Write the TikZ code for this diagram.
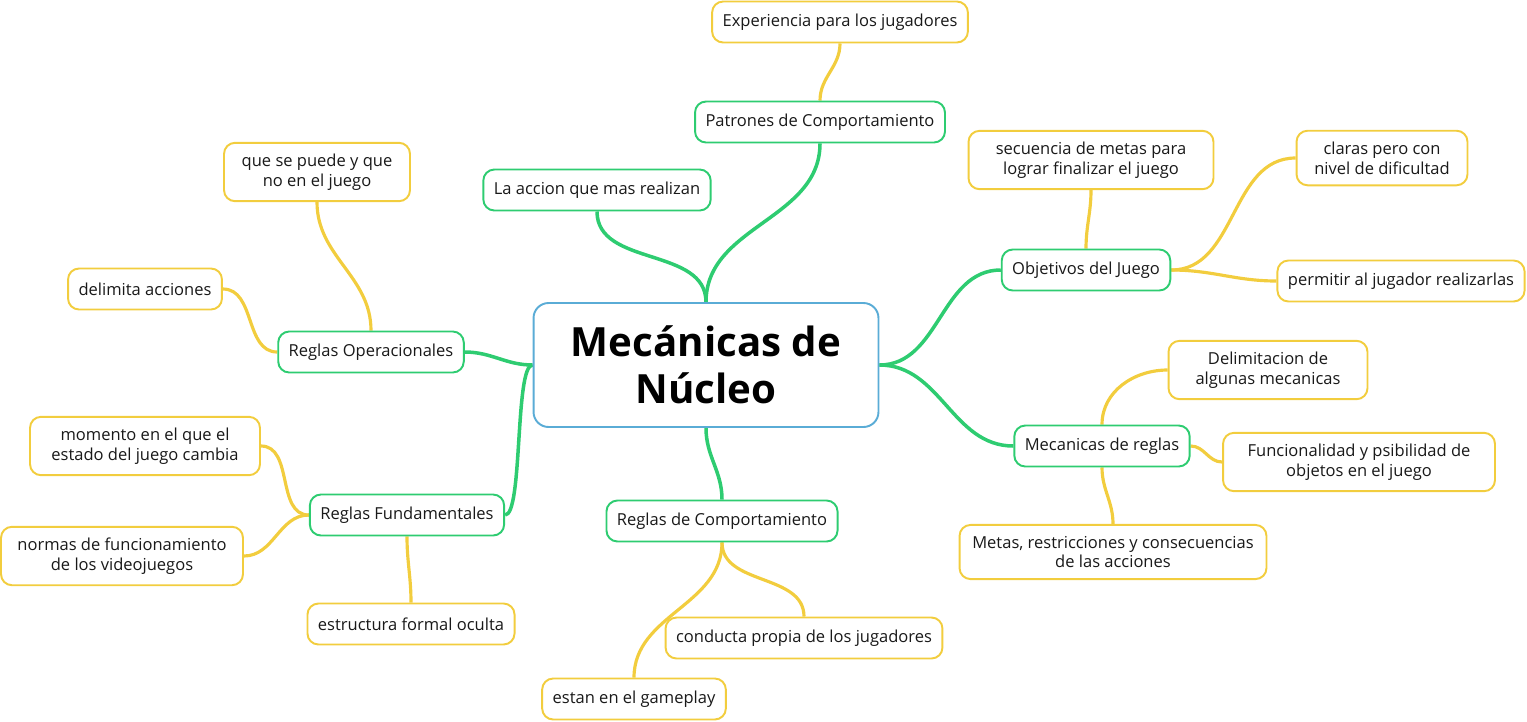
\documentclass[tikz,border=0pt]{standalone}
\usepackage{fontspec}
\setmainfont{Open Sans}
\usepackage{tikz}
\usetikzlibrary{positioning, backgrounds}
\definecolor{CoreBlue}{RGB}{90,172,214}
\definecolor{BranchGreen}{RGB}{46,204,113}
\definecolor{LeafYellow}{RGB}{242,205,62}

\begin{document}
\begin{tikzpicture}[
  x=0.02cm, y=0.02cm,
  every node/.style={font=\fontsize{9.4}{11.3}\selectfont, text=black!90},
  core/.style={draw=CoreBlue, line width=1.1pt, rounded corners=0.3cm, fill=white,
    minimum width=6.9cm, minimum height=2.48cm, align=center,
    font=\fontsize{22.9}{26.6}\selectfont\bfseries, text=black},
  topic/.style={draw=BranchGreen, line width=1.1pt, rounded corners=0.22cm, fill=white,
    minimum height=0.82cm, inner xsep=0.21cm, align=center},
  leaf/.style={draw=LeafYellow, line width=1.1pt, rounded corners=0.22cm, fill=white,
    minimum height=0.82cm, inner xsep=0.21cm, inner ysep=0.22cm, align=center},
  branch/.style={BranchGreen, line width=2pt},
  twig/.style={LeafYellow, line width=1.8pt},
]
\useasboundingbox (0,0) rectangle (1527,-721);

% Centre
\node[core] (core) at (706,-365) {Mecánicas de\\Núcleo};

% Topics
\node[topic] (patrones) at (820,-122) {Patrones de Comportamiento};
\node[topic] (accion) at (597,-190) {La accion que mas realizan};
\node[topic] (operac) at (371,-352) {Reglas Operacionales};
\node[topic] (fundam) at (407,-515) {Reglas Fundamentales};
\node[topic] (comport) at (722,-521) {Reglas de Comportamiento};
\node[topic] (objetivos) at (1086,-270) {Objetivos del Juego};
\node[topic] (mecanicas) at (1102,-446) {Mecanicas de reglas};

% Leaves
\node[leaf] (experiencia) at (840,-22) {Experiencia para los jugadores};
\node[leaf, minimum width=3.72cm] (puede) at (317,-172) {que se puede y que\\no en el juego};
\node[leaf] (delimita) at (145,-289) {delimita acciones};
\node[leaf, minimum width=4.6cm] (momento) at (145,-446) {momento en el que el\\estado del juego cambia};
\node[leaf, minimum width=4.84cm] (normas) at (122,-556) {normas de funcionamiento\\de los videojuegos};
\node[leaf] (estructura) at (411,-624) {estructura formal oculta};
\node[leaf] (conducta) at (804,-638) {conducta propia de los jugadores};
\node[leaf] (gameplay) at (634,-699) {estan en el gameplay};
\node[leaf, minimum width=4.9cm] (secuencia) at (1091,-160) {secuencia de metas para\\lograr finalizar el juego};
\node[leaf, minimum width=3.42cm] (claras) at (1382,-158) {claras pero con\\nivel de dificultad};
\node[leaf] (permitir) at (1401,-281) {permitir al jugador realizarlas};
\node[leaf, minimum width=3.98cm] (delimitacion) at (1268,-370) {Delimitacion de\\algunas mecanicas};
\node[leaf, minimum width=5.44cm] (funcionalidad) at (1359,-462) {Funcionalidad y psibilidad de\\objetos en el juego};
\node[leaf, minimum width=6.14cm] (metas) at (1113,-552) {Metas, restricciones y consecuencias\\de las acciones};

\begin{scope}[on background layer]
% Centre to topics
\draw[branch] (core.north) to[out=90,in=-90] (patrones.south);
\draw[branch] (core.north) to[out=90,in=-90] (accion.south);
\draw[branch] (core.west) to[out=180,in=0] (operac.east);
\draw[branch] (core.west) to[out=180,in=0,looseness=0.3] (fundam.east);
\draw[branch] (core.south) to[out=-90,in=90] (comport.north);
\draw[branch] (core.east) to[out=0,in=180] (objetivos.west);
\draw[branch] (core.east) to[out=0,in=180] (mecanicas.west);

% Topics to leaves
\draw[twig] (experiencia.south) to[out=-90,in=90] (patrones.north);
\draw[twig] (puede.south) to[out=-90,in=90] (operac.north);
\draw[twig] (delimita.east) to[out=0,in=180] (operac.west);
\draw[twig] (momento.east) to[out=0,in=180] (fundam.west);
\draw[twig] (normas.east) to[out=0,in=180] (fundam.west);
\draw[twig] (estructura.north) to[out=90,in=-90] (fundam.south);
\draw[twig] (comport.south) to[out=-90,in=90] (conducta.north);
\draw[twig] (comport.south) to[out=-90,in=90] (gameplay.north);
\draw[twig] (secuencia.south) to[out=-90,in=90] (objetivos.north);
\draw[twig] (objetivos.east) to[out=0,in=180] (claras.west);
\draw[twig] (objetivos.east) to[out=0,in=180] (permitir.west);
\draw[twig] (mecanicas.north) to[out=90,in=180] (delimitacion.west);
\draw[twig] (mecanicas.east) to[out=0,in=180] (funcionalidad.west);
\draw[twig] (mecanicas.south) to[out=-90,in=90] (metas.north);
\end{scope}

\end{tikzpicture}
\end{document}
